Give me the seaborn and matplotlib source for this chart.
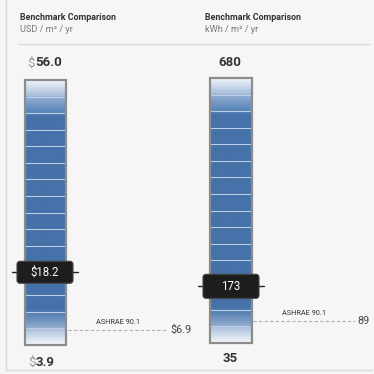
import numpy as np
import pandas as pd
import matplotlib
matplotlib.use("Agg")
import matplotlib.pyplot as plt
import seaborn as sns
from matplotlib.patches import Rectangle, FancyBboxPatch
from matplotlib.colors import to_rgb

# ---------------- data ----------------
titles = ["Benchmark Comparison", "Benchmark Comparison"]
units = ["USD / m² / yr", "kWh / m² / yr"]
prefixes = ["$", ""]
scale_min = [3.9, 35]
scale_max = [56.0, 680]
building_value = [18.2, 173]
ashrae_value = [6.9, 89]
ashrae_label = "ASHRAE 90.1"
decimals = [1, 0]

sns.set_theme(style="white")
plt.rcParams["font.family"] = ["Roboto", "DejaVu Sans"]

W = H = 374
fig = plt.figure(figsize=(3.74, 3.74), dpi=100)
BG = "#f6f6f6"
fig.patch.set_facecolor(BG)


def F(x, y):
    return (x / W, 1 - y / H)


# frame lines
fig.add_artist(plt.Line2D([6 / W, 6 / W], [1, 1 - 370 / H], color="#d9d9d9", lw=1))
fig.add_artist(plt.Line2D([6 / W, 372 / W], [1 - 370 / H] * 2, color="#d9d9d9", lw=1))
fig.add_artist(plt.Line2D([19 / W, 370 / W], [1 - 44 / H] * 2, color="#dcdcdc", lw=1))

# gradient for the bars
N = 400
t = np.linspace(0, 1, N)
stops = [(0.0, "#f6f8fc"), (1 / 16, "#a7bcda"), (1 / 16 + 1e-4, "#93accf"), (2 / 16, "#4c79ae"),
         (2.2 / 16, "#4572a8"), (13.8 / 16, "#4572a8"), (14 / 16, "#5381b6"),
         (15 / 16, "#93aed2"), (15 / 16 + 1e-4, "#a2b9d8"), (1.0, "#f2f5fa")]
sp = np.array([s[0] for s in stops])
sc = np.array([to_rgb(s[1]) for s in stops])
grad = np.stack([np.interp(t, sp, sc[:, k]) for k in range(3)], axis=1)
img = grad[::-1][:, None, :].repeat(4, axis=1)

panels = [
    dict(x0=0, bar=(25, 66), top=80, bot=345, head_x=20, box=(17, 73), tick=(12, 78), dash=(68, 168),
         dash_lab=170, top_y=63, bot_y=362, top_x0=35, bot_x0=36, box_h=11),
    dict(x0=187, bar=(210, 252), top=78, bot=343, head_x=205, box=(203, 259), tick=(198, 264), dash=(253, 355),
         dash_lab=357, top_y=62, bot_y=358, top_x0=None, bot_x0=None, box_h=12),
]

for i, p in enumerate(panels):
    # header
    fig.text(*F(p["head_x"], 17), titles[i], fontsize=6.4, fontweight="bold", color="#333333", va="center")
    fig.text(*F(p["head_x"], 30), units[i], fontsize=6.6, color="#777777", va="center")

    ax = fig.add_axes([p["x0"] / W, 1 - p["bot"] / H, 187 / W, (p["bot"] - p["top"]) / H])
    ax.set_facecolor("none")
    lo, hi = scale_min[i], scale_max[i]
    ax.set_xlim(p["x0"], p["x0"] + 187)
    ax.set_ylim(lo, hi)
    ax.axis("off")
    per_px = (hi - lo) / (p["bot"] - p["top"])

    bl, br = p["bar"]
    ax.imshow(img, extent=[bl, br, lo, hi], aspect="auto", interpolation="bilinear", zorder=1)
    for k in range(1, 16):
        yk = lo + k * (hi - lo) / 16
        ax.plot([bl, br], [yk, yk], color="#bccde4", lw=0.8, zorder=2)
    ax.add_patch(Rectangle((bl, lo), br - bl, hi - lo, fill=False, ec="#8c8c8c", lw=1.6, zorder=3, clip_on=False))

    fmt = "{:.%df}" % decimals[i]
    pre = prefixes[i]

    # ASHRAE dashed line
    dl = pd.DataFrame({"x": list(p["dash"]), "y": [ashrae_value[i]] * 2})
    sns.lineplot(data=dl, x="x", y="y", ax=ax, color="#b0b0b0", lw=0.8, linestyle=(0, (3, 2)), zorder=2)
    ax.annotate(ashrae_label, xy=(sum(p["dash"]) / 2, ashrae_value[i]), xytext=(0, 5.5),
                textcoords="offset points", ha="center", va="center", fontsize=5.3, color="#333333")
    ax.text(p["dash_lab"], ashrae_value[i], pre + fmt.format(ashrae_value[i]), ha="left", va="center",
            fontsize=7.8, color="#444444", clip_on=False)

    # building marker
    ml = pd.DataFrame({"x": list(p["tick"]), "y": [building_value[i]] * 2})
    sns.lineplot(data=ml, x="x", y="y", ax=ax, color="#222222", lw=1.0, zorder=4)
    b0, b1 = p["box"]
    bh = p["box_h"] * per_px
    ax.add_patch(FancyBboxPatch((b0, building_value[i] - bh), b1 - b0, 2 * bh,
                                boxstyle="round,pad=0,rounding_size=3", mutation_aspect=per_px,
                                fc="#1d1d1d", ec="#444444", lw=0.8, zorder=5, clip_on=False))
    ax.text((b0 + b1) / 2, building_value[i], pre + fmt.format(building_value[i]), ha="center", va="center",
            fontsize=8.3, color="white", zorder=6)

    # scale end labels
    cx = (bl + br) / 2
    for val, yy, x0 in [(hi, p["top_y"], p["top_x0"]), (lo, p["bot_y"], p["bot_x0"])]:
        if pre:
            fig.text(*F(x0, yy), pre, ha="right", va="center", fontsize=9.5, color="#999999")
            fig.text(*F(x0, yy), fmt.format(val), ha="left", va="center", fontsize=9.5,
                     fontweight="bold", color="#333333")
        else:
            fig.text(*F(cx - 1, yy), fmt.format(val), ha="center", va="center", fontsize=9.5,
                     fontweight="bold", color="#333333")

fig.savefig("out.png", dpi=100, facecolor=BG)
